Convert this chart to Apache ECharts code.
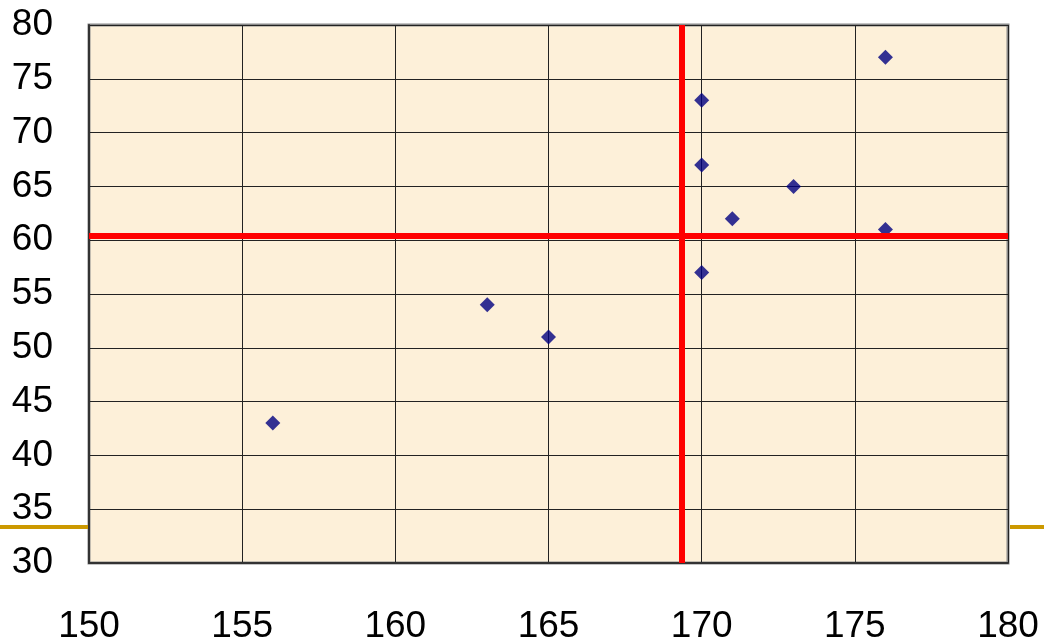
<!DOCTYPE html>
<html>
<head>
<meta charset="utf-8">
<script src="https://cdn.jsdelivr.net/npm/echarts@6/dist/echarts.min.js"></script>
<style>
html,body{margin:0;padding:0;background:#fff;}
#c{width:1044px;height:643px;}
</style>
</head>
<body>
<div id="c"></div>
<script>
const heights = [156, 163, 165, 170, 170, 170, 171, 173, 176, 176];
const weights = [43, 54, 51, 73, 67, 57, 62, 65, 77, 61];
const meanX = 169.35;
const meanY = 60.4;
const xTicks = [150, 155, 160, 165, 170, 175, 180];
const yTicks = [30, 35, 40, 45, 50, 55, 60, 65, 70, 75, 80];

const points = heights.map((h, i) => [h, weights[i]]);
const chart = echarts.init(document.getElementById('c'), null, {renderer: 'canvas'});
const font = "'Liberation Sans', Arial, sans-serif";
chart.setOption({
  animation: false,
  backgroundColor: '#ffffff',
  grid: {
    left: 89, right: 36, top: 25, bottom: 80,
    outerBoundsMode: 'none',
    containLabel: false,
    show: true,
    backgroundColor: '#FDF0D9',
    borderColor: '#8a8a8a',
    borderWidth: 3
  },
  graphic: [
    {type: 'line', shape: {x1: 0, y1: 527, x2: 88, y2: 527}, style: {stroke: '#CC9900', lineWidth: 4}, z: 0},
    {type: 'line', shape: {x1: 1010, y1: 527, x2: 1044, y2: 527}, style: {stroke: '#CC9900', lineWidth: 4}, z: 0}
  ],
  xAxis: {
    type: 'value',
    min: xTicks[0], max: xTicks[xTicks.length - 1], interval: 5,
    axisLine: {show: true, onZero: false, lineStyle: {color: '#333', width: 2}},
    axisTick: {show: false},
    splitLine: {show: true, lineStyle: {color: '#222', width: 1}},
    axisLabel: {color: '#000', fontSize: 37, fontFamily: font, margin: 45,
      formatter: v => xTicks.includes(v) ? String(v) : ''}
  },
  yAxis: {
    type: 'value',
    min: yTicks[0], max: yTicks[yTicks.length - 1], interval: 5,
    axisLine: {show: true, onZero: false, lineStyle: {color: '#333', width: 2}},
    axisTick: {show: false},
    splitLine: {show: true, lineStyle: {color: '#222', width: 1}},
    axisLabel: {color: '#000', fontSize: 37, fontFamily: font, margin: 36,
      padding: [8, 0, 0, 0],
      formatter: v => yTicks.includes(v) ? String(v) : ''}
  },
  series: [{
    type: 'scatter',
    data: points,
    symbol: 'diamond',
    symbolSize: [15, 15],
    itemStyle: {color: '#000080'},
    clip: false,
    markLine: {
      silent: true,
      symbol: ['none', 'none'],
      label: {show: false},
      lineStyle: {color: '#FF0000', width: 6, type: 'solid'},
      data: [{xAxis: meanX}, {yAxis: meanY}]
    }
  }]
});
</script>
</body>
</html>
